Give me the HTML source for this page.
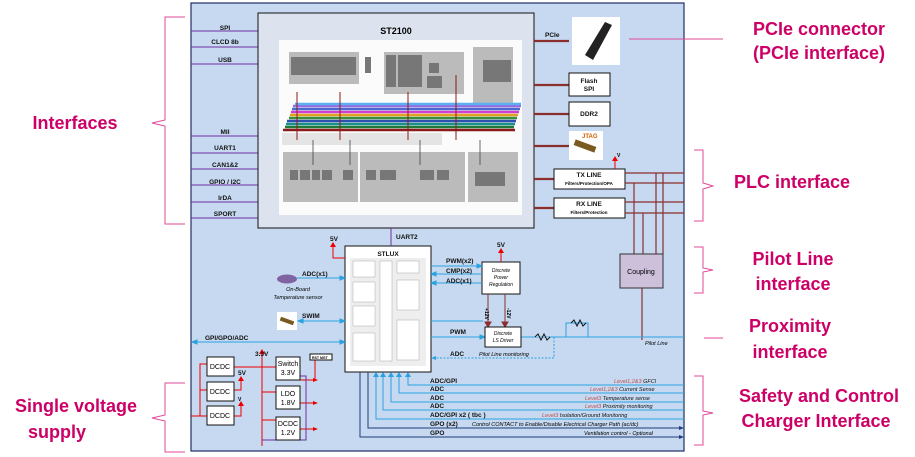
<!DOCTYPE html>
<html><head><meta charset="utf-8"><style>
body{margin:0;background:#fff;width:915px;height:457px;overflow:hidden}
svg{display:block}
text{font-family:"Liberation Sans",sans-serif}
.s{font-size:6.5px;font-weight:bold;fill:#111}
.big{font-size:18px;font-weight:bold;fill:#cc0066}
</style></head><body>
<svg width="915" height="457" viewBox="0 0 915 457">
<rect x="191" y="3" width="493" height="448" fill="#c6d9f0" stroke="#1f2d66" stroke-width="1.2"/>

<g stroke="#7030a0" stroke-width="1">
<line x1="191" y1="31" x2="258" y2="31"/><line x1="191" y1="47" x2="258" y2="47"/><line x1="191" y1="64" x2="258" y2="64"/>
<line x1="191" y1="136" x2="258" y2="136"/><line x1="191" y1="153" x2="258" y2="153"/><line x1="191" y1="169" x2="258" y2="169"/>
<line x1="191" y1="185" x2="258" y2="185"/><line x1="191" y1="202" x2="258" y2="202"/><line x1="191" y1="218" x2="258" y2="218"/>
</g>
<g class="s" text-anchor="middle">
<text x="225" y="30">SPI</text><text x="225" y="44">CLCD 8b</text><text x="225" y="62">USB</text>
<text x="225" y="134">MII</text><text x="225" y="150">UART1</text><text x="225" y="167">CAN1&amp;2</text>
<text x="225" y="184">GPIO / I2C</text><text x="225" y="200">IrDA</text><text x="225" y="216">SPORT</text>
</g>

<rect x="258" y="13" width="276" height="215" fill="#dce3ee" stroke="#111" stroke-width="1"/>
<text x="396" y="34" text-anchor="middle" style="font-size:9px;font-weight:bold">ST2100</text>
<rect x="279" y="40" width="243" height="175" fill="#fbfbfb"/>
<g fill="#bbb">
<rect x="289" y="52" width="70" height="32"/><rect x="384" y="52" width="80" height="42"/><rect x="473" y="47" width="40" height="60"/>
<rect x="283" y="152" width="75" height="50"/><rect x="360" y="152" width="75" height="50"/><rect x="410" y="152" width="55" height="50"/><rect x="468" y="152" width="50" height="50"/>
<rect x="282" y="133" width="160" height="12" fill="#e4e4e4"/>
</g>
<g fill="#777">
<rect x="291" y="57" width="65" height="18"/><rect x="365" y="57" width="6" height="16"/><rect x="386" y="55" width="10" height="32"/><rect x="398" y="55" width="24" height="32"/>
<rect x="429" y="63" width="10" height="10"/><rect x="427" y="76" width="15" height="12"/><rect x="483" y="60" width="28" height="22"/>
<rect x="290" y="170" width="8" height="10"/><rect x="300" y="170" width="10" height="10"/><rect x="312" y="170" width="8" height="10"/><rect x="322" y="170" width="10" height="10"/>
<rect x="343" y="170" width="10" height="10"/><rect x="366" y="170" width="10" height="10"/><rect x="380" y="170" width="16" height="10"/>
<rect x="420" y="170" width="14" height="10"/><rect x="437" y="170" width="12" height="10"/><rect x="475" y="172" width="30" height="14"/>
</g>
<g stroke-width="2.5" fill="none">
<line x1="283" y1="130" x2="515" y2="130" stroke="#8b1a1a"/>
<line x1="285" y1="127" x2="514" y2="127" stroke="#1f7a3a"/>
<line x1="286" y1="124" x2="515" y2="124" stroke="#1b8e8e"/>
<line x1="287" y1="121" x2="516" y2="121" stroke="#2d4fb0"/>
<line x1="289" y1="118" x2="517" y2="118" stroke="#3a8f3a"/>
<line x1="290" y1="115" x2="518" y2="115" stroke="#e0a020"/>
<line x1="291" y1="112" x2="519" y2="112" stroke="#d040d0"/>
<line x1="292" y1="109" x2="520" y2="109" stroke="#4a6ad0"/>
<line x1="293" y1="106" x2="521" y2="106" stroke="#9a6ae0"/>
<line x1="295" y1="104" x2="521" y2="104" stroke="#5ab0f0"/>
</g>
<g stroke="#8b1a1a" stroke-width="1">
<line x1="297" y1="92" x2="297" y2="140"/><line x1="340" y1="92" x2="340" y2="140"/><line x1="408" y1="92" x2="408" y2="140"/><line x1="456" y1="75" x2="456" y2="140"/>
</g>
<g stroke="#444" stroke-width="0.8"><line x1="313" y1="140" x2="313" y2="165"/><line x1="350" y1="140" x2="350" y2="165"/><line x1="420" y1="140" x2="420" y2="165"/><line x1="480" y1="140" x2="480" y2="165"/></g>

<g stroke="#8b2e2e" stroke-width="2.2">
<line x1="534" y1="41" x2="569" y2="41"/><line x1="534" y1="85" x2="569" y2="85"/><line x1="534" y1="114" x2="569" y2="114"/><line x1="534" y1="146" x2="569" y2="146"/>
<line x1="534" y1="179" x2="554" y2="179"/><line x1="534" y1="208" x2="554" y2="208"/>
</g>
<text x="545" y="37" class="s">PCIe</text>
<rect x="572" y="17" width="48" height="48" fill="#fff"/>
<polygon points="585,55 605,22 612,25 593,60" fill="#222"/>
<rect x="569" y="73" width="41" height="23" fill="#fff" stroke="#111"/>
<text x="589" y="83" class="s" text-anchor="middle" fill="#600">Flash</text><text x="589" y="91" class="s" text-anchor="middle">SPI</text>
<rect x="569" y="102" width="41" height="24" fill="#fff" stroke="#111"/>
<text x="589" y="116" class="s" text-anchor="middle">DDR2</text>
<rect x="569" y="131" width="34" height="29" fill="#fff"/>
<rect x="574" y="143" width="22" height="6" fill="#7a5a20" transform="rotate(20 585 146)"/>
<text x="582" y="138" style="font-size:6px;font-weight:bold;fill:#d06000">JTAG</text>
<rect x="554" y="169" width="71" height="20" fill="#fff" stroke="#111"/>
<text x="589" y="177" class="s" text-anchor="middle">TX LINE</text><text x="589" y="185" text-anchor="middle" style="font-size:4.5px;font-weight:bold">Filters/Protection/OPA</text>
<rect x="554" y="198" width="71" height="20" fill="#fff" stroke="#111"/>
<text x="589" y="206" class="s" text-anchor="middle">RX LINE</text><text x="589" y="214" text-anchor="middle" style="font-size:4.5px;font-weight:bold">Filters/Protection</text>
<line x1="615" y1="169" x2="615" y2="160" stroke="#e00" stroke-width="1"/><polygon points="612,161 618,161 615,156" fill="#e00"/>
<text x="617" y="157" style="font-size:5px;font-weight:bold">V</text>
<g stroke="#8b2e2e" stroke-width="1.2">
<line x1="625" y1="173" x2="684" y2="173"/><line x1="625" y1="183" x2="684" y2="183"/><line x1="625" y1="202" x2="684" y2="202"/><line x1="625" y1="213" x2="684" y2="213"/>
<line x1="634" y1="183" x2="634" y2="254"/><line x1="643" y1="213" x2="643" y2="254"/><line x1="656" y1="173" x2="656" y2="254"/><line x1="663" y1="173" x2="663" y2="254"/>
<line x1="642" y1="288" x2="642" y2="340"/>
</g>
<rect x="620" y="254" width="43" height="34" fill="#ccc0da" stroke="#333"/>
<text x="641" y="274" text-anchor="middle" style="font-size:7px">Coupling</text>

<rect x="345" y="246" width="86" height="126" fill="#fff" stroke="#111"/>
<text x="388" y="256" class="s" text-anchor="middle">STLUX</text>
<rect x="350" y="258" width="76" height="108" fill="#eee"/>
<g fill="#fff" stroke="#999" stroke-width="0.4">
<rect x="353" y="261" width="22" height="16"/><rect x="353" y="282" width="22" height="20"/><rect x="353" y="306" width="22" height="20"/><rect x="353" y="333" width="22" height="28"/>
<rect x="380" y="261" width="12" height="100"/><rect x="397" y="261" width="22" height="12"/><rect x="397" y="280" width="22" height="30"/><rect x="397" y="320" width="22" height="40"/>
</g>
<line x1="391" y1="228" x2="391" y2="246" stroke="#7030a0"/>
<text x="396" y="239" class="s">UART2</text>
<path d="M345 258 H333 V246" stroke="#e00" fill="none"/><polygon points="330,247 336,247 333,242" fill="#e00"/>
<text x="330" y="241" class="s">5V</text>

<ellipse cx="287" cy="279" rx="10" ry="4.5" fill="#8064a2"/>
<text x="298" y="291" text-anchor="middle" style="font-size:5.5px;font-style:italic">On-Board</text>
<text x="298" y="299" text-anchor="middle" style="font-size:5.5px;font-style:italic">Temperature sensor</text>
<g stroke="#29a3e0" stroke-width="1" fill="#29a3e0">
<line x1="297" y1="278" x2="343" y2="278"/><polygon points="345,278 340,276 340,280"/>
<line x1="300" y1="321" x2="343" y2="321"/><polygon points="345,321 340,319 340,323"/><polygon points="298,321 303,319 303,323"/>
<line x1="193" y1="342" x2="343" y2="342"/><polygon points="345,342 340,340 340,344"/><polygon points="192,342 197,340 197,344"/>
</g>
<text x="302" y="276" class="s">ADC(x1)</text>
<rect x="277" y="312" width="20" height="18" fill="#fff"/><rect x="280" y="319" width="14" height="4" fill="#7a5a20" transform="rotate(20 287 321)"/>
<text x="302" y="318" class="s">SWIM</text>
<text x="205" y="340" class="s">GPI/GPO/ADC</text>

<rect x="482" y="262" width="38" height="32" fill="#fff" stroke="#111"/>
<text x="501" y="272" text-anchor="middle" style="font-size:5px;font-style:italic">Discrete</text>
<text x="501" y="279" text-anchor="middle" style="font-size:5px;font-style:italic">Power</text>
<text x="501" y="286" text-anchor="middle" style="font-size:5px;font-style:italic">Regulation</text>
<path d="M501 262 V252" stroke="#e00"/><polygon points="498,253 504,253 501,248" fill="#e00"/>
<text x="497" y="247" class="s">5V</text>
<g stroke="#29a3e0" fill="#29a3e0">
<line x1="431" y1="266" x2="480" y2="266"/><polygon points="482,266 477,264 477,268"/>
<line x1="433" y1="274" x2="482" y2="274"/><polygon points="431,274 436,272 436,276"/>
<line x1="433" y1="283" x2="482" y2="283"/><polygon points="431,283 436,281 436,285"/>
<line x1="431" y1="321" x2="483" y2="321"/>
</g>
<g stroke="#29a3e0" fill="#29a3e0">
<line x1="431" y1="337" x2="483" y2="337"/><polygon points="485,337 480,335 480,339"/>
<line x1="521" y1="337" x2="684" y2="337"/>
</g>
<text x="446" y="263" class="s">PWM(x2)</text><text x="446" y="273" class="s">CMP(x2)</text><text x="446" y="283" class="s">ADC(x1)</text>
<g stroke="#8b2e2e" fill="#8b2e2e"><line x1="488" y1="294" x2="488" y2="324"/><polygon points="485,322 491,322 488,327"/><line x1="505" y1="294" x2="505" y2="324"/><polygon points="502,322 508,322 505,327"/></g>
<text x="485" y="308" transform="rotate(90 485 308)" style="font-size:5px;font-weight:bold">+12V</text>
<text x="507" y="308" transform="rotate(90 507 308)" style="font-size:5px;font-weight:bold">-12V</text>
<rect x="485" y="327" width="36" height="20" fill="#fff" stroke="#111"/>
<text x="503" y="335" text-anchor="middle" style="font-size:5px;font-style:italic">Discrete</text>
<text x="503" y="342" text-anchor="middle" style="font-size:5px;font-style:italic">LS Driver</text>
<text x="450" y="334" class="s">PWM</text>
<polyline points="535,337 538,334 541,340 544,334 547,340 550,337" fill="#c6d9f0" stroke="#111"/>
<path d="M566 337 V323 H588 V337" stroke="#29a3e0" fill="none"/>
<polyline points="571,323 574,320 577,326 580,320 583,326 586,323" fill="none" stroke="#111"/>
<text x="645" y="345" style="font-size:5.5px;font-style:italic">Pilot Line</text>
<path d="M554 337 V358 H433" stroke="#29a3e0" stroke-dasharray="2,1.5" fill="none"/><polygon points="431,358 436,356 436,360" fill="#29a3e0"/>
<text x="450" y="356" class="s">ADC</text>
<text x="479" y="356" style="font-size:5.5px;font-style:italic">Pilot Line monitoring</text>

<g stroke="#29a3e0" fill="none" stroke-width="1">
<path d="M684 385 H408 V376"/>
<path d="M684 393 H399 V376"/>
<path d="M684 402 H391 V376"/>
<path d="M684 410 H383 V376"/>
<path d="M684 419 H376 V376"/>
</g>
<g fill="#29a3e0">
<polygon points="405,377 411,377 408,372"/><polygon points="396,377 402,377 399,372"/><polygon points="388,377 394,377 391,372"/><polygon points="380,377 386,377 383,372"/><polygon points="373,377 379,377 376,372"/>
</g>
<g stroke="#1f3d7a" fill="none">
<path d="M368 372 V428 H680"/>
<path d="M360 372 V437 H680"/>
</g>
<g fill="#1f3d7a"><polygon points="684,428 679,426 679,430"/><polygon points="684,437 679,435 679,439"/></g>
<g class="s"><text x="430" y="383">ADC/GPI</text><text x="430" y="391">ADC</text><text x="430" y="400">ADC</text><text x="430" y="408">ADC</text><text x="430" y="417">ADC/GPI x2 ( tbc )</text><text x="430" y="426">GPO (x2)</text><text x="430" y="435">GPO</text></g>
<g style="font-size:5.5px;font-style:italic">
<text x="614" y="383" fill="#c0504d">Level1,2&amp;3 <tspan fill="#111">GFCI</tspan></text>
<text x="590" y="391" fill="#c0504d">Level1,2&amp;3 <tspan fill="#111">Current Sense</tspan></text>
<text x="585" y="400" fill="#c0504d">Level3 <tspan fill="#111">Temperature sense</tspan></text>
<text x="585" y="408" fill="#c0504d">Level3 <tspan fill="#111">Proximity monitoring</tspan></text>
<text x="542" y="417" fill="#c0504d">Level3 <tspan fill="#111">Isolation/Ground Monitoring</tspan></text>
<text x="472" y="426">Control CONTACT to Enable/Disable Electrical Charger Path (ac/dc)</text>
<text x="584" y="435">Ventilation control - Optional</text>
</g>

<g stroke="#e00" fill="none" stroke-width="1">
<path d="M191 416 H207 M207 364 H200 V416 M200 390 H207"/>
<path d="M234 367 H276"/><path d="M262 353 V446"/>
<path d="M262 392 H276 M262 420 H276"/>
<path d="M234 390 H241 V380 M234 416 H241 V405"/>
<path d="M300 380 H315 V359 M300 403 H315 M300 429 H315"/>
</g>
<g fill="#e00">
<polygon points="259,354 265,354 262,349"/><polygon points="238,381 244,381 241,376"/><polygon points="238,406 244,406 241,401"/>
<polygon points="318,380 313,378 313,382"/><polygon points="318,403 313,401 313,405"/><polygon points="318,429 313,427 313,431"/>
</g>
<path d="M300 376 H306 V440 H262" stroke="#7030a0" fill="none"/>
<g fill="#fff" stroke="#111">
<rect x="207" y="357" width="27" height="19"/><rect x="207" y="382" width="27" height="19"/><rect x="207" y="406" width="27" height="19"/>
<rect x="276" y="357" width="24" height="23"/><rect x="276" y="386" width="24" height="23"/><rect x="276" y="417" width="24" height="23"/>
<rect x="310" y="354" width="22" height="6"/>
</g>
<g style="font-size:7px" text-anchor="middle">
<text x="220" y="369">DCDC</text><text x="220" y="394">DCDC</text><text x="220" y="418">DCDC</text>
<text x="288" y="366">Switch</text><text x="288" y="375">3.3V</text><text x="288" y="396">LDO</text><text x="288" y="405">1.8V</text>
<text x="288" y="426">DCDC</text><text x="288" y="435">1.2V</text>
</g>
<text x="312" y="359" style="font-size:3.5px;font-weight:bold">RST MGT</text>
<text x="255" y="356" class="s">3.3V</text><text x="238" y="375" class="s">5V</text><text x="238" y="401" style="font-size:5px;font-weight:bold">V</text>

<g stroke="#e04a9a" fill="none" stroke-width="1">
<path d="M185 17 H165 V120 L152 123 L165 126 V224 H185"/>
<path d="M185 383 H165 V415 L152 418 L165 421 V452 H185"/>
<line x1="629" y1="39" x2="723" y2="39"/>
<path d="M694 150 H703 V183 L713 186 L703 189 V221 H694"/>
<path d="M694 247 H703 V268 L713 270 L703 272 V293 H694"/>
<line x1="704" y1="338" x2="723" y2="338"/>
<path d="M694 376 H703 V411 L713 413 L703 415 V445 H694"/>
</g>

<text x="75" y="129" class="big" text-anchor="middle">Interfaces</text>
<text x="76" y="412" class="big" text-anchor="middle">Single voltage</text>
<text x="57" y="438" class="big" text-anchor="middle">supply</text>
<text x="819" y="35" class="big" text-anchor="middle">PCIe connector</text>
<text x="819" y="59" class="big" text-anchor="middle">(PCIe interface)</text>
<text x="792" y="188" class="big" text-anchor="middle">PLC interface</text>
<text x="793" y="265" class="big" text-anchor="middle">Pilot Line</text>
<text x="793" y="290" class="big" text-anchor="middle">interface</text>
<text x="790" y="332" class="big" text-anchor="middle">Proximity</text>
<text x="790" y="358" class="big" text-anchor="middle">interface</text>
<text x="819" y="402" class="big" text-anchor="middle">Safety and Control</text>
<text x="816" y="427" class="big" text-anchor="middle">Charger Interface</text>
</svg>
</body></html>
